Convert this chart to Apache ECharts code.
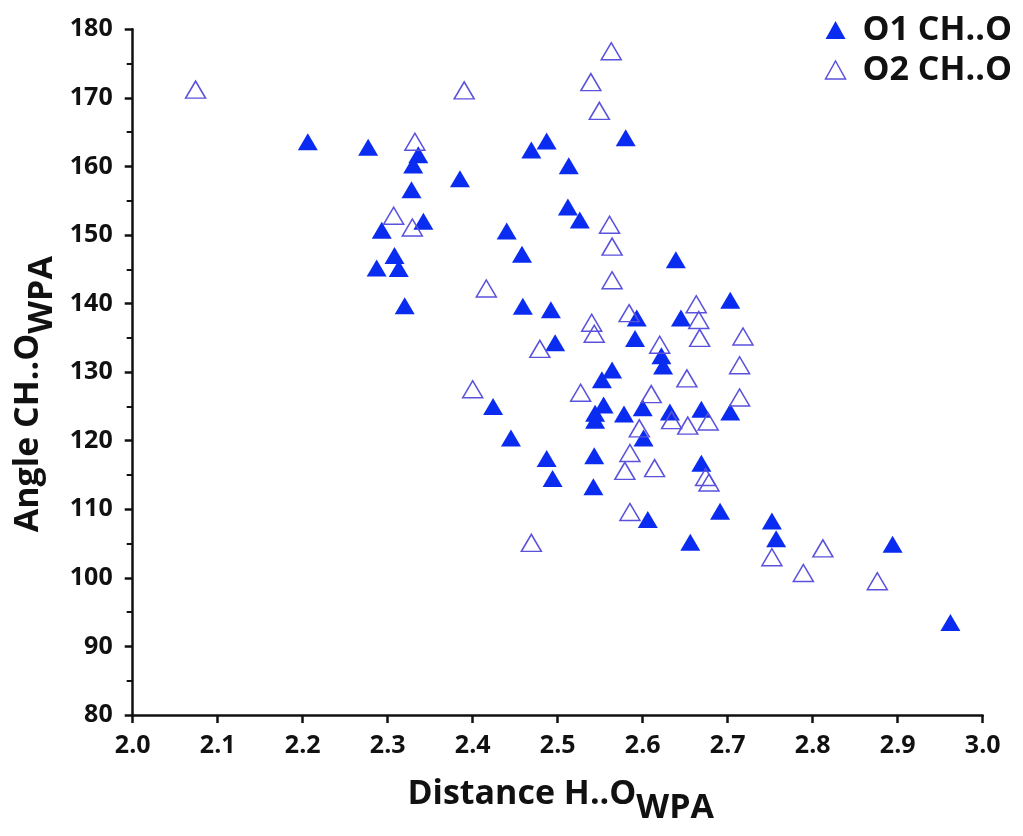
<!DOCTYPE html>
<html>
<head>
<meta charset="utf-8">
<script src="https://cdn.jsdelivr.net/npm/echarts@6/dist/echarts.min.js"></script>
<style>
html,body{margin:0;padding:0;background:#fff;}
#chart{width:1023px;height:836px;}
</style>
</head>
<body>
<div id="chart"></div>
<script>
// O1 CH..O (filled triangles): [distance, angle]
const o1Distance = [2.206,2.277,2.336,2.330,2.328,2.385,2.342,2.293,2.308,2.287,2.313,2.320,2.440,2.458,2.469,2.487,2.580,2.513,2.512,2.526,2.639,2.459,2.492,2.497,2.424,2.445,2.703,2.645,2.593,2.591,2.622,2.624,2.564,2.552,2.554,2.544,2.544,2.578,2.600,2.632,2.669,2.703,2.601,2.487,2.543,2.494,2.542,2.669,2.606,2.691,2.656,2.752,2.757,2.894,2.962];
const o1Angle    = [163.6,162.8,161.7,160.2,156.6,158.2,152.0,150.7,147.0,145.2,145.1,139.7,150.6,147.2,162.4,163.7,164.2,160.1,154.1,152.2,146.4,139.6,139.1,134.3,125.0,120.4,140.5,137.9,137.9,134.9,132.4,130.9,130.3,128.9,125.2,124.0,123.0,123.9,124.8,124.2,124.6,124.2,120.4,117.4,117.8,114.5,113.3,116.7,108.5,109.7,105.2,108.3,105.7,104.9,93.5];
// O2 CH..O (open triangles)
const o2Distance = [2.074,2.390,2.332,2.307,2.329,2.416,2.563,2.539,2.549,2.561,2.564,2.564,2.400,2.479,2.663,2.666,2.584,2.540,2.543,2.667,2.718,2.620,2.714,2.652,2.527,2.610,2.714,2.634,2.677,2.653,2.596,2.585,2.579,2.614,2.674,2.678,2.585,2.469,2.752,2.812,2.789,2.876];
const o2Angle    = [171.2,171.1,163.6,152.8,151.1,142.2,176.8,172.3,168.1,151.5,148.3,143.4,127.5,133.4,139.9,137.6,138.6,137.2,135.6,135.0,135.2,134.0,131.0,129.1,127.0,126.8,126.3,123.0,122.8,122.2,121.8,118.2,115.6,116.0,114.7,113.9,109.6,105.1,103.0,104.3,100.7,99.5];

const seriesNames = ['O1 CH..O', 'O2 CH..O'];
const xTitle = 'Distance H..O';
const yTitle = 'Angle CH..O';
const subscript = 'WPA';

const zip = (a, b) => a.map((v, i) => [v, b[i]]);
const FONT = 'Open Sans';
const AXIS_COLOR = '#111';
const FILL = '#0a2cf0';
const HOLLOW = '#5a52dc';

const titleRich = {
  a: {fontFamily: FONT, fontSize: 34, fontWeight: 700, color: '#111', lineHeight: 40, verticalAlign: 'top'},
  b: {fontFamily: FONT, fontSize: 34, fontWeight: 700, color: '#111', lineHeight: 40, verticalAlign: 'top', padding: [14,0,0,0]}
};

const chart = echarts.init(document.getElementById('chart'));
chart.setOption({
  animation: false,
  backgroundColor: '#fff',
  grid: {left: 132.7, right: 40.3, top: 29.3, bottom: 121},
  legend: {
    orient: 'vertical', right: 6, top: 8,
    itemWidth: 20, itemHeight: 18, itemGap: 6,
    textStyle: {fontFamily: FONT, fontSize: 34, fontWeight: 700, color: '#111', lineHeight: 34, padding: [0,0,0,12]},
    data: [
      {name: seriesNames[0], icon: 'triangle', itemStyle: {color: FILL}},
      {name: seriesNames[1], icon: 'triangle', itemStyle: {color: 'rgba(255,255,255,0)', borderColor: HOLLOW, borderWidth: 1.5}}
    ]
  },
  xAxis: {
    type: 'value', min: 2.0, max: 3.0, interval: 0.1,
    splitLine: {show: false},
    axisLine: {lineStyle: {color: AXIS_COLOR, width: 2.5}},
    axisTick: {length: 8, lineStyle: {color: AXIS_COLOR, width: 2.5}},
    axisLabel: {margin: 18, fontFamily: FONT, fontSize: 25, fontWeight: 700, color: '#111',
      formatter: v => v.toFixed(1)},
    name: '{a|' + xTitle + '}{b|' + subscript + '}',
    nameLocation: 'middle', nameGap: 62,
    nameTextStyle: {rich: titleRich, padding: [0, 0, 0, 6]}
  },
  yAxis: {
    type: 'value', min: 80, max: 180, interval: 10,
    splitLine: {show: false},
    axisLine: {lineStyle: {color: AXIS_COLOR, width: 2.5}},
    axisTick: {length: 8, lineStyle: {color: AXIS_COLOR, width: 2.5}},
    minorTick: {show: true, splitNumber: 2, length: 6, lineStyle: {color: AXIS_COLOR, width: 2}},
    axisLabel: {margin: 20, fontFamily: FONT, fontSize: 25, fontWeight: 700, color: '#111'},
    name: '{a|' + yTitle + '}{b|' + subscript + '}',
    nameLocation: 'middle', nameGap: 68, nameRotate: 90,
    nameTextStyle: {rich: titleRich, padding: [0, 44, 0, 0]}
  },
  series: [
    {
      name: seriesNames[0], type: 'scatter', symbol: 'triangle', symbolSize: [20, 17],
      itemStyle: {color: FILL, opacity: 1},
      data: zip(o1Distance, o1Angle)
    },
    {
      name: seriesNames[1], type: 'scatter', symbol: 'triangle', symbolSize: [20, 17],
      itemStyle: {color: 'rgba(255,255,255,0)', borderColor: HOLLOW, borderWidth: 1.5, opacity: 1},
      data: zip(o2Distance, o2Angle)
    }
  ]
});
</script>
</body>
</html>
